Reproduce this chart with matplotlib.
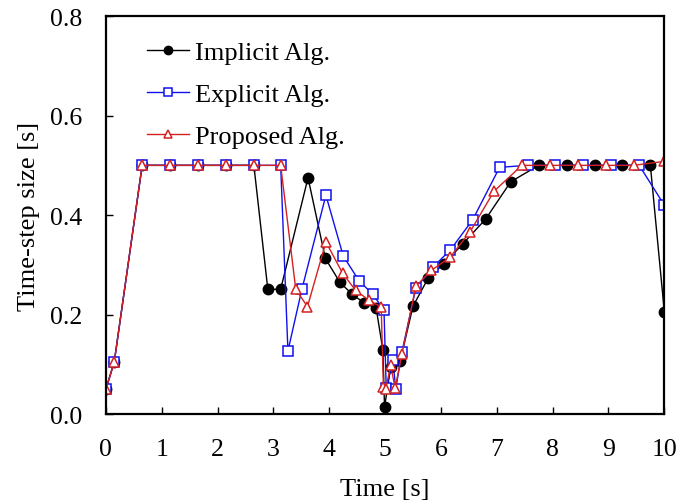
import matplotlib.pyplot as plt

plt.rcParams['font.family'] = ['Liberation Serif', 'DejaVu Serif']
plt.rcParams['mathtext.fontset'] = 'stix'

# time-step history of the three algorithms
t_impl = [0.0, 0.15, 0.65, 1.15, 1.65, 2.15, 2.65, 2.90, 3.13, 3.62, 3.93, 4.19,
          4.41, 4.63, 4.84, 4.96, 4.99, 5.10, 5.27, 5.50, 5.77, 6.05, 6.39, 6.80,
          7.25, 7.75, 8.25, 8.75, 9.25, 9.75, 10.0]
dt_impl = [0.05, 0.105, 0.5, 0.5, 0.5, 0.5, 0.5, 0.251, 0.251, 0.475, 0.313, 0.265,
           0.241, 0.223, 0.213, 0.129, 0.014, 0.095, 0.107, 0.217, 0.273, 0.302, 0.342, 0.392,
           0.467, 0.5, 0.5, 0.5, 0.5, 0.5, 0.206]

t_expl = [0.0, 0.15, 0.65, 1.15, 1.65, 2.15, 2.65, 3.13, 3.26, 3.51, 3.94, 4.25,
          4.54, 4.78, 4.98, 5.02, 5.14, 5.19, 5.30, 5.55, 5.86, 6.17, 6.57, 7.05,
          7.55, 8.05, 8.55, 9.05, 9.55, 10.0]
dt_expl = [0.05, 0.105, 0.5, 0.5, 0.5, 0.5, 0.5, 0.5, 0.127, 0.251, 0.44, 0.318,
           0.267, 0.241, 0.209, 0.052, 0.108, 0.051, 0.124, 0.253, 0.296, 0.33, 0.391, 0.496,
           0.5, 0.5, 0.5, 0.5, 0.5, 0.42]

t_prop = [0.0, 0.15, 0.65, 1.15, 1.65, 2.15, 2.65, 3.13, 3.40, 3.61, 3.94, 4.24,
          4.47, 4.71, 4.93, 4.97, 5.01, 5.10, 5.18, 5.30, 5.55, 5.83, 6.16, 6.52,
          6.95, 7.45, 7.95, 8.45, 8.95, 9.45, 10.0]
dt_prop = [0.05, 0.105, 0.5, 0.5, 0.5, 0.5, 0.5, 0.5, 0.251, 0.216, 0.346, 0.283,
           0.249, 0.229, 0.215, 0.055, 0.05, 0.098, 0.052, 0.12, 0.257, 0.289, 0.315, 0.366,
           0.448, 0.5, 0.5, 0.5, 0.5, 0.5, 0.508]

fig = plt.figure(figsize=(6.92, 5.02), dpi=100)
ax = fig.add_axes([0.153, 0.173, 0.807, 0.793])

ax.plot(t_impl, dt_impl, '-o', color='black', lw=1.0, ms=7.5,
        mfc='black', mec='black', label='Implicit Alg.')
ax.plot(t_expl, dt_expl, '-s', color='#1010ee', lw=1.0, ms=7,
        mfc='white', mec='#1010ee', mew=1.1, label='Explicit Alg.')
ax.plot(t_prop, dt_prop, '-^', color='#d42020', lw=1.0, ms=7,
        mfc='white', mec='#d42020', mew=1.1, label='Proposed Alg.')

ax.set_xlim(0, 10)
ax.set_ylim(0, 0.8)
ax.set_xticks(range(0, 11))
ax.set_yticks([0.0, 0.2, 0.4, 0.6, 0.8])
ax.set_yticklabels(['0.0', '0.2', '0.4', '0.6', '0.8'])
ax.tick_params(direction='in', length=5, width=1.0, labelsize=18.5)
ax.tick_params(axis='x', pad=17)
ax.tick_params(axis='y', pad=17)
for s in ax.spines.values():
    s.set_linewidth(1.6)

ax.set_xlabel('Time [s]', fontsize=19, labelpad=13)
ax.set_ylabel('Time-step size [s]', fontsize=19, labelpad=7)

ax.legend(loc='upper left', bbox_to_anchor=(0.031, 0.997), frameon=False,
          fontsize=19, handlelength=1.6, handletextpad=0.22, labelspacing=0.7,
          markerscale=0.8)

fig.savefig('out.png', dpi=100)
